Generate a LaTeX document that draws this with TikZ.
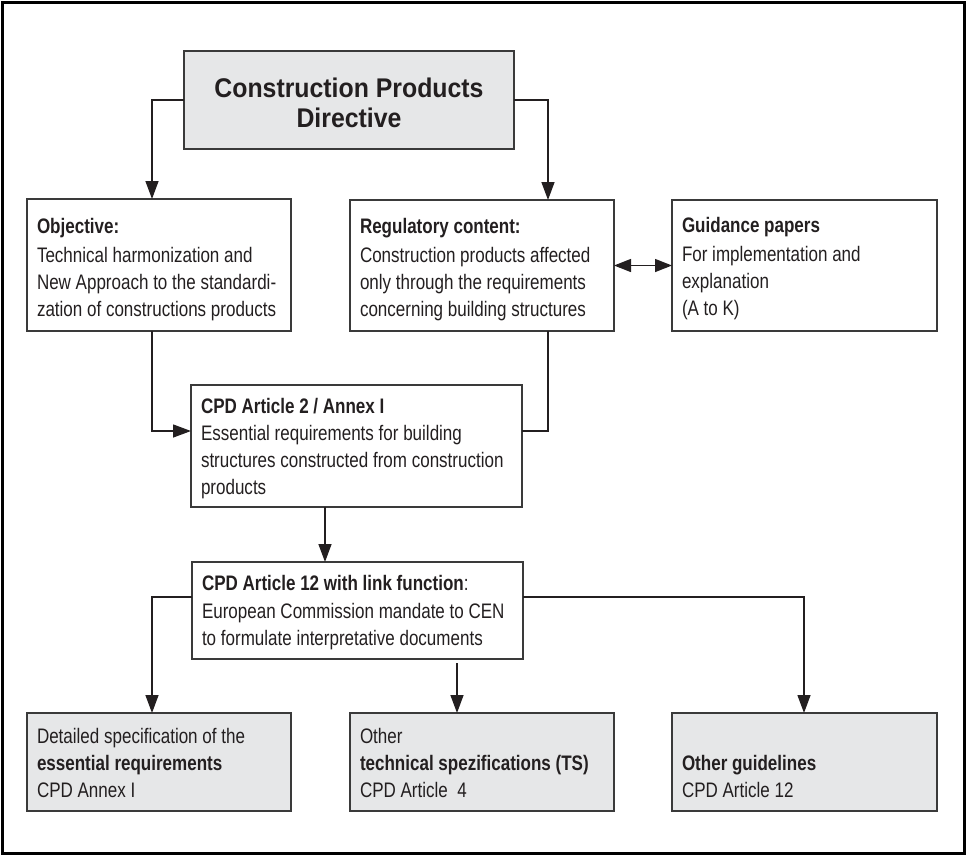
\documentclass[tikz,border=0pt]{standalone}
\usepackage{fontspec}
\setmainfont{Liberation Sans}[FakeStretch=0.81]
\newfontfamily\titlefont{Liberation Sans}[FakeStretch=0.92]
\usetikzlibrary{arrows.meta}

\definecolor{boxgray}{RGB}{230,231,232}
\definecolor{boxline}{RGB}{58,58,58}
\definecolor{linecol}{RGB}{35,31,32}
\definecolor{inkcol}{RGB}{35,31,32}

% text cell: width, height, first baseline, content
\newcommand\cellbox[4]{\parbox[c][#2][t]{#1}{\raggedright\leftskip=10pt\rule{0pt}{#3}#4}}

\begin{document}
\begin{tikzpicture}[x=1pt,y=-1pt,
  cell/.style={draw=boxline, line width=1.6pt, inner sep=0pt, outer sep=0pt,
    anchor=north west, text=inkcol, font=\fontsize{21}{27}\selectfont},
  shaded/.style={cell, fill=boxgray},
  link/.style={draw=linecol, line width=1.4pt},
  arr/.style={link, -{Triangle[length=18pt,width=13pt]}},
  biarr/.style={link, {Triangle[length=17pt,width=13pt]}-{Triangle[length=17pt,width=13pt]}},
  frame/.style={draw=black, line width=3pt}]

\useasboundingbox (0,0) rectangle (969,857);
\draw[frame] (2,2) rectangle (964,853);

% directive at the top
\node[shaded, font=\titlefont\bfseries\fontsize{27}{30}\selectfont] (top) at (184,51)
  {\parbox[c][98pt][t]{330pt}{\centering\rule{0pt}{46pt}Construction Products\\Directive}};

% second row
\node[cell] (obj) at (27,199) {\cellbox{264pt}{132pt}{34pt}{\textbf{Objective:}\\[2pt]
  Technical harmonization and\\New Approach to the standardi-\\zation of constructions products}};
\node[cell] (reg) at (350,200) {\cellbox{264pt}{131pt}{33pt}{\textbf{Regulatory content:}\\[2pt]
  Construction products affected\\only through the requirements\\concerning building structures}};
\node[cell] (gui) at (672,200) {\cellbox{265pt}{131pt}{32pt}{\textbf{Guidance papers}\\[2pt]
  For implementation and\\explanation\\(A to K)}};

% articles
\node[cell] (art2) at (191,385) {\cellbox{331pt}{122pt}{28pt}{\textbf{CPD Article 2 / Annex I}\\
  Essential requirements for building\\structures constructed from construction\\products}};
\node[cell] (a12) at (192,562) {\cellbox{331pt}{97pt}{28pt}{\textbf{CPD Article 12 with link function}:\\[1pt]
  European Commission mandate to CEN\\to formulate interpretative documents}};

% results
\node[shaded] (b1) at (27,713) {\cellbox{264pt}{98pt}{30pt}{Detailed specification of the\\
  \textbf{essential requirements}\\CPD Annex I}};
\node[shaded] (b2) at (350,713) {\cellbox{264pt}{98pt}{30pt}{Other\\
  \textbf{technical spezifications (TS)}\\CPD Article\ \ 4}};
\node[shaded] (b3) at (672,713) {\cellbox{265pt}{98pt}{30pt}{\\
  \textbf{Other guidelines}\\CPD Article 12}};

% routing columns and rows
\coordinate (xl) at (152,0);
\coordinate (xr) at (548,0);
\coordinate (xm) at (325,0);
\coordinate (xb) at (457,0);
\coordinate (xg) at (804,0);
\coordinate (yj) at (0,431);
\coordinate (ys) at (0,597);

% connectors
\draw[arr] (top.west) -| (xl |- obj.north);
\draw[arr] (top.east) -| (xr |- reg.north);
\draw[biarr] (reg.east) -- (gui.west);
\draw[arr] (xl |- obj.south) |- (art2.west |- yj);
\draw[link] (xr |- reg.south) |- (art2.east |- yj);
\draw[arr] (xm |- art2.south) -- (xm |- a12.north);
\draw[arr] (a12.west |- ys) -| (xl |- b1.north);
\draw[arr] (a12.east |- ys) -| (xg |- b3.north);
\draw[arr, shorten <=4pt] (xb |- a12.south) -- (xb |- b2.north);

\end{tikzpicture}
\end{document}
